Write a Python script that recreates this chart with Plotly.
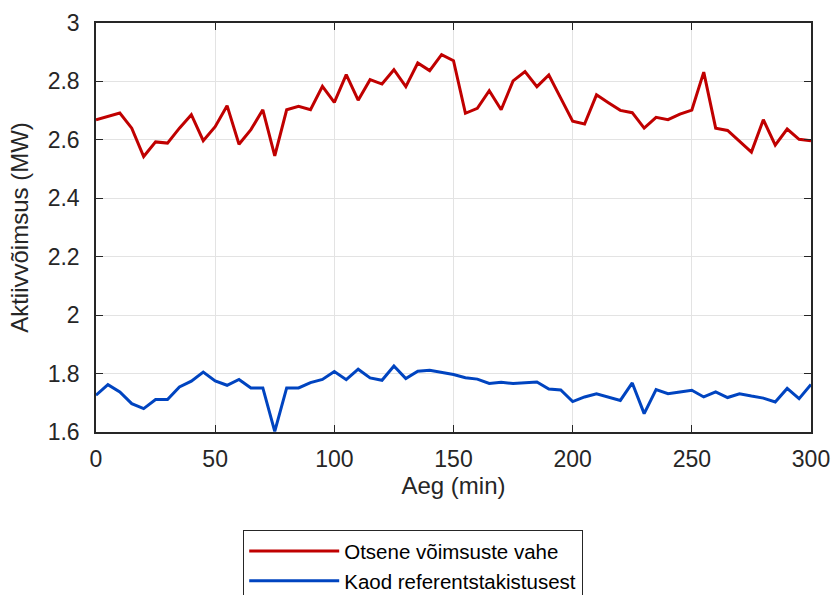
import plotly.graph_objects as go

time_min = list(range(0, 301, 5))

otsene_vahe = [2.669, 2.68, 2.692, 2.64, 2.543, 2.593, 2.589, 2.64, 2.686, 2.597,
               2.645, 2.717, 2.585, 2.635, 2.703, 2.545, 2.703, 2.715, 2.703, 2.783,
               2.728, 2.823, 2.736, 2.806, 2.791, 2.84, 2.782, 2.863, 2.837, 2.892,
               2.871, 2.691, 2.708, 2.768, 2.703, 2.802, 2.834, 2.782, 2.822, 2.743,
               2.664, 2.654, 2.754, 2.727, 2.701, 2.693, 2.64, 2.677, 2.669, 2.688,
               2.702, 2.832, 2.64, 2.632, 2.596, 2.558, 2.669, 2.582, 2.637, 2.602,
               2.597]

kaod_ref = [1.726, 1.762, 1.737, 1.697, 1.68, 1.711, 1.711, 1.754, 1.774, 1.805,
            1.775, 1.76, 1.78, 1.751, 1.751, 1.602, 1.751, 1.751, 1.769, 1.78,
            1.807, 1.779, 1.815, 1.785, 1.777, 1.826, 1.783, 1.808, 1.811, 1.803,
            1.797, 1.786, 1.781, 1.766, 1.77, 1.766, 1.768, 1.771, 1.747, 1.744,
            1.704, 1.72, 1.731, 1.72, 1.708, 1.768, 1.663, 1.745, 1.731, 1.737,
            1.743, 1.72, 1.737, 1.718, 1.731, 1.723, 1.716, 1.703, 1.749, 1.714,
            1.763]

x_ticks = [0, 50, 100, 150, 200, 250, 300]
y_ticks = [1.6, 1.8, 2, 2.2, 2.4, 2.6, 2.8, 3]
y_tick_text = ["1.6", "1.8", "2", "2.2", "2.4", "2.6", "2.8", "3"]

font_family = "Liberation Sans, Arial, sans-serif"
axis_color = "#262626"

fig = go.Figure()
fig.add_trace(go.Scatter(x=time_min, y=otsene_vahe, mode="lines",
                         name="Otsene võimsuste vahe",
                         line=dict(color="#c00000", width=3)))
fig.add_trace(go.Scatter(x=time_min, y=kaod_ref, mode="lines",
                         name="Kaod referentstakistusest",
                         line=dict(color="#0044c0", width=3)))

axis_common = dict(
    showline=True, linecolor=axis_color, linewidth=1.5, mirror="ticks",
    ticks="inside", ticklen=7, tickwidth=1.2, tickcolor=axis_color,
    showgrid=True, gridcolor="#e3e3e3", gridwidth=1,
    zeroline=False,
    tickfont=dict(family=font_family, size=23, color=axis_color),
)

fig.update_layout(
    width=833, height=595,
    margin=dict(l=96, r=22, t=23, b=163, autoexpand=False),
    plot_bgcolor="white", paper_bgcolor="white",
    font=dict(family=font_family, size=23, color=axis_color),
    xaxis=dict(range=[0, 300], tickvals=x_ticks, ticklabelstandoff=6,
               title=dict(text="Aeg (min)", standoff=0,
                          font=dict(family=font_family, size=24, color=axis_color)),
               **axis_common),
    yaxis=dict(range=[1.6, 3], tickvals=y_ticks, ticktext=y_tick_text,
               ticklabelstandoff=10,
               title=dict(text="Aktiivvõimsus (MW)", standoff=12,
                          font=dict(family=font_family, size=24, color=axis_color)),
               **axis_common),
    legend=dict(x=0.2056, y=-0.2396, xanchor="left", yanchor="top",
                bordercolor=axis_color, borderwidth=1.2, bgcolor="white",
                font=dict(family=font_family, size=20.5, color="black"),
                itemwidth=90, tracegroupgap=0),
    showlegend=True,
)

fig.write_html("out.html")
